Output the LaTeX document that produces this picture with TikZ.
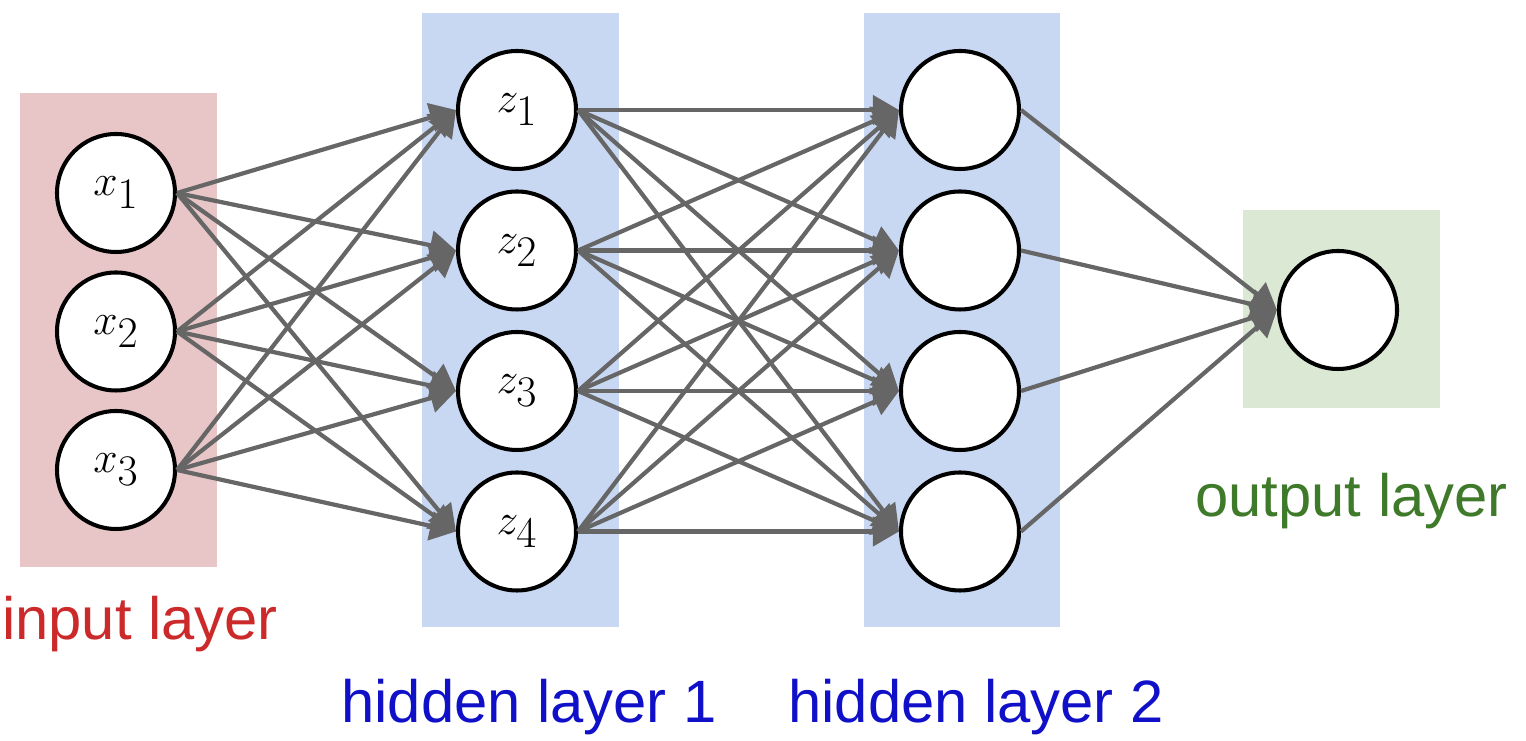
\documentclass[tikz,border=0pt]{standalone}
\usepackage{fontspec}
\setmainfont{Liberation Sans}
\usetikzlibrary{arrows.meta}
\definecolor{inbg}{HTML}{E8C6C7}
\definecolor{hidbg}{HTML}{C9D8F2}
\definecolor{outbg}{HTML}{DAE8D4}
\definecolor{inred}{HTML}{CC2A2A}
\definecolor{hidblue}{HTML}{1010C8}
\definecolor{outgreen}{HTML}{3E7A2A}
\definecolor{linkgray}{HTML}{666666}
\begin{document}
\begin{tikzpicture}[line join=round, >={Triangle[length=0.52cm,width=0.58cm]},
    neuron/.style={circle, draw=black, line width=2.3pt, fill=white, minimum size=2.36cm, inner sep=0pt, font=\fontsize{38}{42}\selectfont},
    link/.style={->, draw=linkgray, fill=linkgray, line width=2.4pt},
    tag/.style={anchor=base, font=\fontsize{34}{40}\selectfont}]
    \useasboundingbox (0,0) rectangle (30.52,14.82);
    % layer backgrounds
    \fill[inbg] (0.4,3.48) rectangle (4.34,12.96);
    \fill[hidbg] (8.44,2.28) rectangle (12.38,14.56);
    \fill[hidbg] (17.28,2.28) rectangle (21.2,14.56);
    \fill[outbg] (24.86,6.66) rectangle (28.8,10.62);
    % neurons
    \foreach \i/\y in {1/10.96,2/8.19,3/5.42}
        \node[neuron] (x\i) at (2.32,\y) {$x_\i$};
    \foreach \i/\y in {1/12.62,2/9.81,3/7.0,4/4.19}{
        \node[neuron] (z\i) at (10.34,\y) {$z_\i$};
        \node[neuron] (h\i) at (19.2,\y) {};}
    \node[neuron] (y) at (26.76,8.62) {};
    % weights
    \foreach \i in {1,2,3}
        \foreach \j in {1,...,4} \draw[link] (x\i.east)--(z\j.west);
    \foreach \i in {1,...,4}
        \foreach \j in {1,...,4} \draw[link] (z\i.east)--(h\j.west);
    \foreach \i in {1,...,4} \draw[link] (h\i.east)--(y.west);
    % layer names
    \node[tag, text=inred] (lin) at (2.8,2.02) {input layer};
    \node[tag, text=hidblue] (lh1) at (10.58,0.36) {hidden layer 1};
    \node[tag, text=hidblue] (lh2) at (19.52,0.36) {hidden layer 2};
    \node[tag, text=outgreen] (lout) at (27.03,4.48) {output layer};
\end{tikzpicture}
\end{document}
